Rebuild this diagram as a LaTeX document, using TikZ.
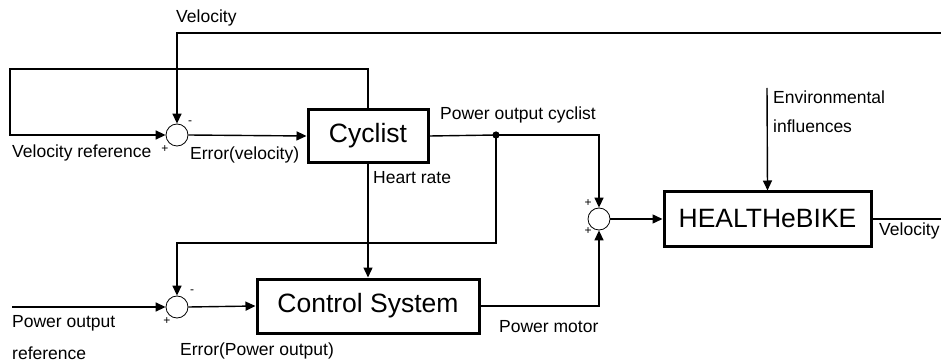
\documentclass[tikz,border=0pt]{standalone}
\usepackage{fontspec}
\setmainfont{Liberation Sans}
\usetikzlibrary{arrows.meta,calc}
\begin{document}
\begin{tikzpicture}[x=1pt,y=1pt,
  conn/.style={line width=1.4pt},
  arr/.style={conn,-{Triangle[length=10pt,width=9pt]}},
  block/.style={draw,line width=3pt,rectangle,inner sep=0pt,font=\fontsize{26.5}{30}\selectfont},
  sumc/.style={draw,line width=0.8pt,circle,minimum size=22pt,inner sep=0pt},
  lbl/.style={anchor=west,inner sep=0pt,font=\fontsize{17.5}{20}\selectfont},
  sgn/.style={inner sep=0pt,font=\fontsize{12}{12}\selectfont}]
\useasboundingbox (0,0) rectangle (941,-363);
% blocks
\node[block,minimum width=120pt,minimum height=53pt] (cyc) at (368,-136) {Cyclist};
\node[block,minimum width=222pt,minimum height=54pt] (cs) at (368,-306) {Control System};
\node[block,minimum width=207pt,minimum height=54pt] (hb) at (767.5,-219) {HEALTHeBIKE};
% summing junctions
\node[sumc] (s1) at (177,-135) {};
\node[sumc] (s2) at (177,-307) {};
\node[sumc] (s3) at (599,-219) {};
% coordinates
\coordinate (vin) at (941,-33);
\coordinate (vout) at (941,-219);
\coordinate (pref) at (12,-307);
\coordinate (env) at (767,-88);
\coordinate (dot) at (496,-135);
\fill (dot) circle (3.6pt);
% connectors
\draw[arr] (vin) -| (s1.north);
\draw[arr] (cyc.north) |- (10,-69) |- (s1.west);
\draw[arr] (s1.east) -- (cyc.west);
\draw[conn] (cyc.east) -- (dot);
\draw[arr] (dot) -| (s3.north);
\draw[arr] (dot) |- (177,-243) -- (s2.north);
\draw[arr] (cyc.south) -- (cs.north);
\draw[arr] (pref) -- (s2.west);
\draw[arr] (s2.east) -- (cs.west);
\draw[arr] (cs.east) -| (s3.south);
\draw[arr] (s3.east) -- (hb.west);
\draw[arr] (env) -- (hb.north);
\draw[conn] (hb.east) -- (vout);
% labels
\node[lbl] (lv) at (176,-18) {Velocity};
\node[lbl] (lvr) at (12,-153) {Velocity reference};
\node[lbl] (lev) at (190,-155) {Error(velocity)};
\node[lbl] (lpoc) at (440,-115) {Power output cyclist};
\node[lbl] (lhr) at (373,-178) {Heart rate};
\node[lbl] (lpor1) at (12,-323) {Power output};
\node[lbl] (lpor2) at (12,-353) {reference};
\node[lbl] (lepo) at (180,-351) {Error(Power output)};
\node[lbl] (lpm) at (499,-327) {Power motor};
\node[lbl] (lvo) at (879,-231) {Velocity};
\node[lbl] (lenv1) at (773,-97) {Environmental};
\node[lbl] (lenv2) at (773,-126) {influences};
% signs
\node[sgn] (m1) at (190,-123) {-};
\node[sgn] (p1) at (165,-149) {+};
\node[sgn] (m2) at (192,-292) {-};
\node[sgn] (p2) at (167,-321) {+};
\node[sgn] (p3a) at (588,-203) {+};
\node[sgn] (p3b) at (588,-231) {+};
\end{tikzpicture}
\end{document}
